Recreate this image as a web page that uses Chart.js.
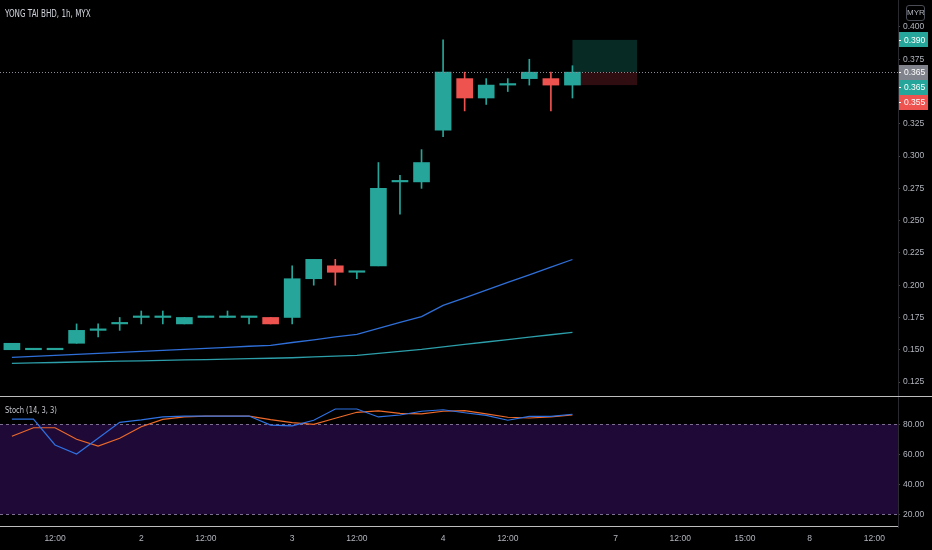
<!DOCTYPE html>
<html>
<head>
<meta charset="utf-8">
<script src="https://cdn.jsdelivr.net/npm/chart.js@4.4.1/dist/chart.umd.min.js"></script>
<style>
  html, body { margin: 0; padding: 0; background: #000; }
  #wrap {
    position: relative; width: 932px; height: 550px; overflow: hidden; background: #000;
    font-family: "DejaVu Sans Condensed", "Liberation Sans", sans-serif;
  }
  #priceBox { position: absolute; left: 0; top: 0; width: 932px; height: 396px; }
  #stochBox { position: absolute; left: 0; top: 397px; width: 932px; height: 153px; }
  .title {
    position: absolute; left: 5px; top: 8px; color: #d1d4dc; font-size: 10px;
    transform: scaleX(0.8); transform-origin: left center; white-space: nowrap;
  }
  .stochTitle {
    position: absolute; left: 5px; top: 405px; color: #c3c6ce; font-size: 9px;
    transform: scaleX(0.83); transform-origin: left center; white-space: nowrap;
  }
  .currency {
    position: absolute; left: 906px; top: 5px; width: 17px; height: 14px; line-height: 14px;
    border: 1px solid #4a4d55; border-radius: 3px; color: #b2b5be; font-size: 8px; text-align: center;
    font-family: "Liberation Sans", sans-serif;
  }
  .sep1 { position: absolute; left: 0; top: 396px; width: 932px; height: 1px; background: #bdbdbd; }
  .sep2 { position: absolute; left: 0; top: 526px; width: 898px; height: 1px; background: #bdbdbd; }
</style>
</head>
<body>
<div id="wrap">
  <div id="priceBox"><canvas id="price"></canvas></div>
  <div id="stochBox"><canvas id="stoch"></canvas></div>
  <div class="sep1"></div>
  <div class="sep2"></div>
  <div class="title">YONG TAI BHD, 1h, MYX</div>
  <div class="stochTitle">Stoch (14, 3, 3)</div>
  <div class="currency">MYR</div>
</div>
<script>
// candles, one per hour (index = candle number)
const opens  = [0.150, 0.150, 0.150, 0.155, 0.165, 0.170, 0.175, 0.175, 0.170, 0.175, 0.175, 0.175, 0.175, 0.175, 0.205, 0.215, 0.210, 0.215, 0.280, 0.280, 0.320, 0.360, 0.345, 0.355, 0.360, 0.360, 0.355]
const highs  = [0.155, 0.150, 0.150, 0.170, 0.170, 0.175, 0.180, 0.180, 0.175, 0.175, 0.180, 0.175, 0.175, 0.215, 0.220, 0.220, 0.210, 0.295, 0.285, 0.305, 0.390, 0.365, 0.360, 0.360, 0.375, 0.365, 0.370]
const lows   = [0.150, 0.150, 0.150, 0.155, 0.160, 0.165, 0.170, 0.170, 0.170, 0.175, 0.175, 0.170, 0.170, 0.170, 0.200, 0.200, 0.205, 0.215, 0.255, 0.275, 0.315, 0.335, 0.340, 0.350, 0.355, 0.335, 0.345]
const closes = [0.155, 0.150, 0.150, 0.165, 0.165, 0.170, 0.175, 0.175, 0.175, 0.175, 0.175, 0.175, 0.170, 0.205, 0.220, 0.210, 0.210, 0.275, 0.280, 0.295, 0.365, 0.345, 0.355, 0.355, 0.365, 0.355, 0.365]

// moving averages
const maFast = [0.1441, 0.1449, 0.1457, 0.1464, 0.1472, 0.1480, 0.1488, 0.1495, 0.1503, 0.1511, 0.1519, 0.1527, 0.1534, 0.1556, 0.1577, 0.1599, 0.1619, 0.1665, 0.1711, 0.1756, 0.1843, 0.1902, 0.1961, 0.2021, 0.2080, 0.2140, 0.2199]
const maSlow = [0.1395, 0.1398, 0.1401, 0.1405, 0.1408, 0.1411, 0.1414, 0.1418, 0.1421, 0.1424, 0.1427, 0.1431, 0.1434, 0.1438, 0.1444, 0.1451, 0.1457, 0.1472, 0.1488, 0.1503, 0.1522, 0.1541, 0.1560, 0.1578, 0.1598, 0.1616, 0.1635]

// stochastic
const stochK = [83.5, 83.5, 66.2, 60.2, 70.7, 81.3, 82.9, 84.9, 85.5, 85.5, 85.5, 85.5, 79.5, 78.9, 82.7, 90.2, 90.2, 84.9, 86.2, 88.7, 89.7, 87.7, 86.0, 82.7, 85.3, 85.3, 86.7]
const stochD = [72.0, 77.7, 77.7, 70.0, 65.5, 70.7, 78.4, 83.3, 84.9, 85.5, 85.5, 85.5, 83.1, 81.1, 80.0, 84.0, 88.0, 88.9, 87.3, 86.9, 88.7, 89.1, 86.9, 84.7, 84.2, 84.9, 86.2]
const stochBands = [80, 20]

// axes
const priceTicks = [0.125, 0.150, 0.175, 0.200, 0.225, 0.250, 0.275, 0.300, 0.325, 0.375, 0.400]
const stochTicks = [20, 40, 60, 80]
const timeTickPos = [2, 6, 9, 13, 16, 20, 23, 28, 31, 34, 37, 40]
const timeTickLabels = ['12:00', '2', '12:00', '3', '12:00', '4', '12:00', '7', '12:00', '15:00', '8', '12:00']

// long position tool + price tags on the scale
const positionFrom = 26
const positionTo = 29
const positionEntry = 0.365
const positionTarget = 0.390
const positionStop = 0.355
const lastPrice = 0.365
const tagValues = [0.390, 0.365, 0.365, 0.355]

const UP = '#26a69a'
const DOWN = '#ef5350'
const tagColors = [UP, '#80838c', UP, DOWN]
const FONT = '"Liberation Sans", "Arial", sans-serif'
const X_MIN = -0.552
const X_MAX = 41.1

const candleColors = opens.map((o, i) => closes[i] >= o ? UP : DOWN)

function fixWidth(scale) {
  scale.width = 34
  scale.paddingTop = 0
  scale.paddingBottom = 0
}

const positionPlugin = {
  id: 'position',
  beforeDatasetsDraw(chart) {
    const { ctx, scales: { x, y } } = chart
    const left = x.getPixelForValue(positionFrom)
    const right = x.getPixelForValue(positionTo)
    ctx.save()
    ctx.fillStyle = '#072a25'
    ctx.fillRect(left, y.getPixelForValue(positionTarget), right - left,
      y.getPixelForValue(positionEntry) - y.getPixelForValue(positionTarget))
    ctx.fillStyle = '#2f0d10'
    ctx.fillRect(left, y.getPixelForValue(positionEntry), right - left,
      y.getPixelForValue(positionStop) - y.getPixelForValue(positionEntry))
    ctx.restore()
  },
  afterDatasetsDraw(chart) {
    const { ctx, chartArea, scales: { y } } = chart
    const py = Math.round(y.getPixelForValue(lastPrice)) + 0.5
    ctx.save()
    ctx.strokeStyle = '#8a8d96'
    ctx.lineWidth = 1
    ctx.setLineDash([1, 2])
    ctx.beginPath()
    ctx.moveTo(chartArea.left, py)
    ctx.lineTo(chartArea.right, py)
    ctx.stroke()
    ctx.restore()
  },
  afterDraw(chart) {
    const { ctx, chartArea, scales: { y } } = chart
    const h = 15
    let prev = -Infinity
    ctx.save()
    ctx.font = '8.5px ' + FONT
    ctx.textBaseline = 'middle'
    tagValues.forEach((v, i) => {
      let cy = y.getPixelForValue(v)
      if (cy < prev + h) cy = prev + h
      prev = cy
      const left = chartArea.right + 1
      ctx.fillStyle = tagColors[i]
      ctx.fillRect(left, Math.round(cy - h / 2), 29, h)
      ctx.fillStyle = '#ffffff'
      ctx.fillRect(left, Math.round(cy), 2, 1)
      ctx.fillText(v.toFixed(3), left + 5, cy + 0.5)
    })
    ctx.restore()
  }
}

new Chart(document.getElementById('price'), {
  type: 'bar',
  data: {
    datasets: [
      {
        label: 'body',
        data: opens.map((o, i) => ({ x: i, y: [o, closes[i]] })),
        backgroundColor: candleColors,
        barThickness: 16,
        minBarLength: 1.5,
        grouped: false,
        order: 1
      },
      {
        label: 'wick',
        data: lows.map((l, i) => ({ x: i, y: [l, highs[i]] })),
        backgroundColor: candleColors,
        barThickness: 1,
        grouped: false,
        order: 2
      },
      {
        type: 'line',
        label: 'MA fast',
        data: maFast.map((v, i) => ({ x: i, y: v })),
        borderColor: '#2f6fd8',
        borderWidth: 1.3,
        pointRadius: 0,
        tension: 0,
        order: 3
      },
      {
        type: 'line',
        label: 'MA slow',
        data: maSlow.map((v, i) => ({ x: i, y: v })),
        borderColor: '#2c9faa',
        borderWidth: 1.3,
        pointRadius: 0,
        tension: 0,
        order: 3
      }
    ]
  },
  options: {
    responsive: true,
    maintainAspectRatio: false,
    animation: false,
    layout: { padding: 0 },
    plugins: { legend: { display: false }, tooltip: { enabled: false } },
    scales: {
      x: {
        type: 'linear',
        min: X_MIN,
        max: X_MAX,
        offset: false,
        display: false
      },
      y: {
        position: 'right',
        min: 0.11416,
        max: 0.4209,
        afterBuildTicks: (scale) => { scale.ticks = priceTicks.map(v => ({ value: v })) },
        afterFit: fixWidth,
        grid: { drawOnChartArea: false, tickLength: 2, color: '#44474e' },
        border: { color: '#2a2a2e' },
        ticks: {
          padding: 3,
          color: '#b2b5be',
          font: { family: FONT, size: 8.5 },
          callback: (v) => v.toFixed(3)
        }
      }
    }
  },
  plugins: [positionPlugin]
})

const bandPlugin = {
  id: 'band',
  beforeDatasetsDraw(chart) {
    const { ctx, chartArea, scales: { y } } = chart
    const top = y.getPixelForValue(stochBands[0])
    const bottom = y.getPixelForValue(stochBands[1])
    ctx.save()
    ctx.fillStyle = '#1f0a37'
    ctx.fillRect(chartArea.left, top, chartArea.right - chartArea.left, bottom - top)
    ctx.strokeStyle = '#7d6f92'
    ctx.lineWidth = 1
    ctx.setLineDash([3, 3])
    stochBands.forEach(b => {
      const py = Math.round(y.getPixelForValue(b)) + 0.5
      ctx.beginPath()
      ctx.moveTo(chartArea.left, py)
      ctx.lineTo(chartArea.right, py)
      ctx.stroke()
    })
    ctx.restore()
  }
}

new Chart(document.getElementById('stoch'), {
  type: 'line',
  data: {
    datasets: [
      {
        label: '%K',
        data: stochK.map((v, i) => ({ x: i, y: v })),
        borderColor: '#2f72e4',
        borderWidth: 1.2,
        pointRadius: 0,
        tension: 0
      },
      {
        label: '%D',
        data: stochD.map((v, i) => ({ x: i, y: v })),
        borderColor: '#ed6a2a',
        borderWidth: 1.2,
        pointRadius: 0,
        tension: 0
      }
    ]
  },
  options: {
    responsive: true,
    maintainAspectRatio: false,
    animation: false,
    layout: { padding: 0 },
    plugins: { legend: { display: false }, tooltip: { enabled: false } },
    scales: {
      x: {
        type: 'linear',
        min: X_MIN,
        max: X_MAX,
        offset: false,
        afterBuildTicks: (scale) => { scale.ticks = timeTickPos.map(v => ({ value: v })) },
        afterFit: (scale) => {
          scale.height = 23
          scale.paddingLeft = 0
          scale.paddingRight = 0
        },
        grid: { display: false, drawTicks: false },
        border: { display: false },
        ticks: {
          padding: 7,
          maxRotation: 0,
          autoSkip: false,
          color: '#b2b5be',
          font: { family: FONT, size: 8.5 },
          callback: (v) => timeTickLabels[timeTickPos.indexOf(v)]
        }
      },
      y: {
        position: 'right',
        min: 11.5,
        max: 98.2,
        afterBuildTicks: (scale) => { scale.ticks = stochTicks.map(v => ({ value: v })) },
        afterFit: fixWidth,
        grid: { drawOnChartArea: false, tickLength: 2, color: '#44474e' },
        border: { color: '#2a2a2e' },
        ticks: {
          padding: 3,
          color: '#b2b5be',
          font: { family: FONT, size: 8.5 },
          callback: (v) => v.toFixed(2)
        }
      }
    }
  },
  plugins: [bandPlugin]
})
</script>
</body>
</html>
